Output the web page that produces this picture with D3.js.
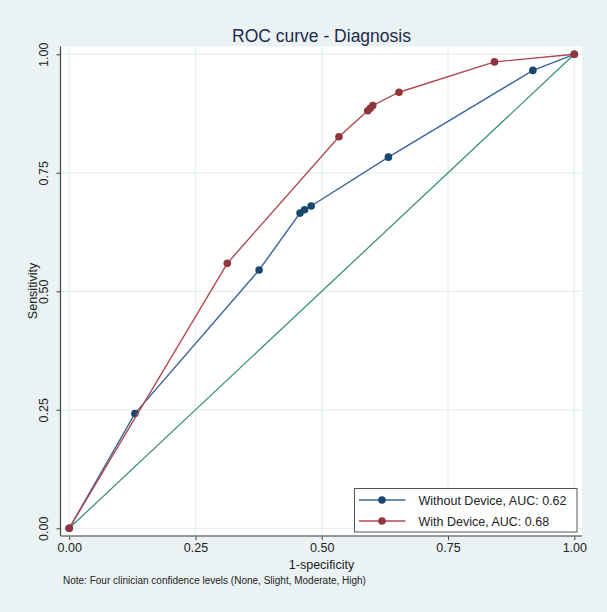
<!DOCTYPE html>
<html>
<head>
<meta charset="utf-8">
<script src="https://cdn.jsdelivr.net/npm/d3@7"></script>
<style>
  html, body { margin: 0; padding: 0; background: #EAF2F3; }
  svg { display: block; font-family: "Liberation Sans", Arial, sans-serif; }
</style>
</head>
<body>
<svg id="chart" width="607" height="612"></svg>
<script>
// ---- data ----
const titleText = "ROC curve - Diagnosis";
const xTicks = [0, 0.25, 0.5, 0.75, 1];
const yTicks = [0, 0.25, 0.5, 0.75, 1];
const withoutFpr = [0, 0.130, 0.376, 0.457, 0.466, 0.479, 0.632, 0.918, 1];
const withoutTpr = [0, 0.242, 0.545, 0.665, 0.672, 0.680, 0.783, 0.966, 1];
const withFpr = [0, 0.313, 0.534, 0.591, 0.596, 0.601, 0.653, 0.842, 1];
const withTpr = [0, 0.559, 0.826, 0.881, 0.886, 0.892, 0.920, 0.984, 1];
const seriesNames = ["Without Device, AUC: 0.62", "With Device, AUC: 0.68"];
const noteText = "Note: Four clinician confidence levels (None, Slight, Moderate, High)";

// ---- layout ----
const svg = d3.select("#chart");
const W = 607, H = 612;
const plot = { left: 61, top: 46.5, right: 582, bottom: 536 };
const x = d3.scaleLinear().domain([0, 1]).range([69.2, 574.3]);
const y = d3.scaleLinear().domain([0, 1]).range([528.3, 54.3]);

svg.append("rect").attr("width", W).attr("height", H).attr("fill", "#EAF2F3");
svg.append("rect")
  .attr("x", plot.left).attr("y", plot.top)
  .attr("width", plot.right - plot.left).attr("height", plot.bottom - plot.top)
  .attr("fill", "#ffffff");

// gridlines
const grid = svg.append("g").attr("stroke", "#E6EFF2").attr("stroke-width", 1.2);
grid.selectAll("line.gx").data(xTicks).join("line")
  .attr("x1", d => x(d)).attr("x2", d => x(d))
  .attr("y1", plot.top).attr("y2", plot.bottom);
grid.selectAll("line.gy").data(yTicks).join("line")
  .attr("y1", d => y(d)).attr("y2", d => y(d))
  .attr("x1", plot.left).attr("x2", plot.right);

// axes
const fmt = d3.format(".2f");
const xAxis = svg.append("g").attr("transform", `translate(0,${plot.bottom})`)
  .call(d3.axisBottom(x).tickValues(xTicks).tickFormat(fmt).tickSize(4).tickPadding(3));
const yAxis = svg.append("g").attr("transform", `translate(${plot.left - 0.5},0)`)
  .call(d3.axisLeft(y).tickValues(yTicks).tickFormat(fmt).tickSize(4).tickPadding(3));
[xAxis, yAxis].forEach(a => {
  a.select(".domain").remove();
  a.selectAll(".tick line").attr("stroke", "#444");
  a.selectAll(".tick text").attr("fill", "#222").style("font-size", "12.5px")
    .style("font-family", '"Liberation Sans", Arial, sans-serif');
});
yAxis.selectAll(".tick text")
  .attr("x", null).attr("dy", null)
  .attr("text-anchor", "middle")
  .attr("transform", "translate(-13,0) rotate(-90)");
svg.append("line").attr("x1", plot.left - 0.5).attr("x2", plot.left - 0.5)
  .attr("y1", plot.top).attr("y2", plot.bottom).attr("stroke", "#444").attr("stroke-width", 1.2);
svg.append("line").attr("x1", plot.left - 0.5).attr("x2", plot.right)
  .attr("y1", plot.bottom).attr("y2", plot.bottom).attr("stroke", "#777").attr("stroke-width", 1.5);

// diagonal reference
svg.append("line")
  .attr("x1", x(0)).attr("y1", y(0)).attr("x2", x(1)).attr("y2", y(1))
  .attr("stroke", "#2E8B72").attr("stroke-width", 1.2);

// series
const series = [
  { name: seriesNames[0], fpr: withoutFpr, tpr: withoutTpr, line: "#3A679A", mark: "#1A476F" },
  { name: seriesNames[1], fpr: withFpr, tpr: withTpr, line: "#B04850", mark: "#90353B" }
];
const lineGen = d3.line().x(d => x(d[0])).y(d => y(d[1]));
series.forEach(s => {
  const pts = s.fpr.map((f, i) => [f, s.tpr[i]]);
  svg.append("path").datum(pts).attr("d", lineGen)
    .attr("fill", "none").attr("stroke", s.line).attr("stroke-width", 1.4);
  svg.append("g").selectAll("circle").data(pts).join("circle")
    .attr("cx", d => x(d[0])).attr("cy", d => y(d[1])).attr("r", 3.8)
    .attr("fill", s.mark);
});
// redraw origin/end red markers on top order as in reference (red drawn last already)

// title and axis titles
svg.append("text").attr("x", 321.5).attr("y", 41.5).attr("text-anchor", "middle")
  .attr("fill", "#1E2B4D").style("font-size", "17.5px").text(titleText);
svg.append("text").attr("x", 321.5).attr("y", 569).attr("text-anchor", "middle")
  .attr("fill", "#222").style("font-size", "12.5px").text("1-specificity");
svg.append("text").attr("transform", "translate(37,291) rotate(-90)").attr("text-anchor", "middle")
  .attr("fill", "#222").style("font-size", "12.5px").text("Sensitivity");
svg.append("text").attr("x", 63).attr("y", 584)
  .attr("fill", "#222").style("font-size", "10px").text(noteText);

// legend
const lg = svg.append("g");
lg.append("rect").attr("x", 354.5).attr("y", 488.5).attr("width", 222.5).attr("height", 43.5)
  .attr("fill", "#ffffff").attr("stroke", "#555").attr("stroke-width", 1);
series.forEach((s, i) => {
  const cy = 500 + i * 21;
  lg.append("line").attr("x1", 359).attr("x2", 405.5).attr("y1", cy).attr("y2", cy)
    .attr("stroke", s.line).attr("stroke-width", 1.4);
  lg.append("circle").attr("cx", 382).attr("cy", cy).attr("r", 3.8).attr("fill", s.mark);
  lg.append("text").attr("x", 418.5).attr("y", cy + 4.5).attr("fill", "#222")
    .style("font-size", "12.5px").text(s.name);
});
</script>
</body>
</html>
